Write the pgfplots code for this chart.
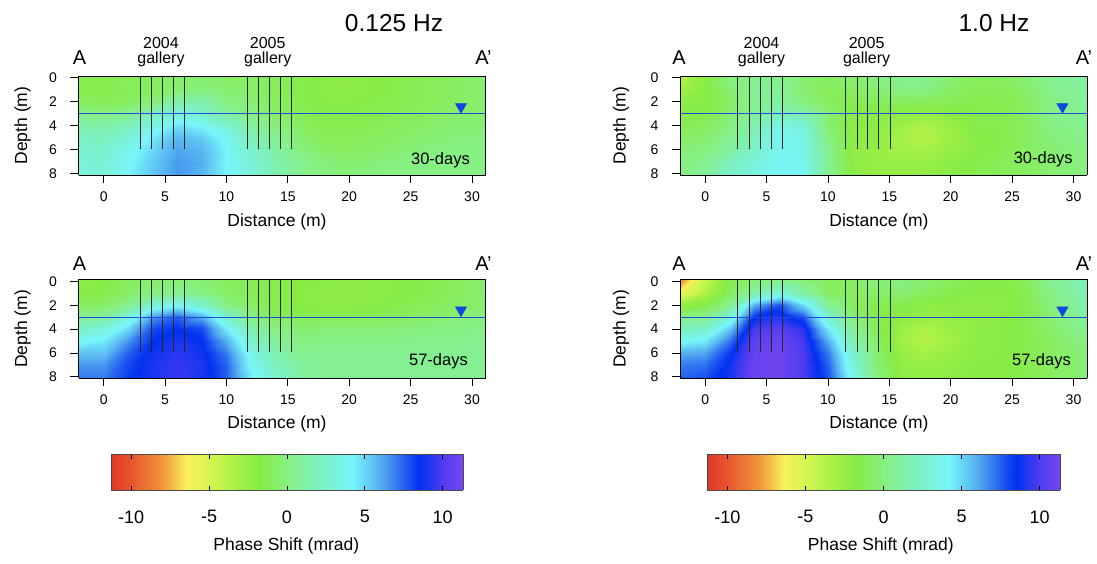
\documentclass[border=0pt]{standalone}
\usepackage{fontspec}
\setmainfont{Liberation Sans}
\usepackage{pgfplots}
\pgfplotsset{compat=1.18}
\newcommand\fs[1]{\fontsize{#1}{#1}\selectfont}
\definecolor{wt}{RGB}{35,75,215}
\definecolor{tri}{RGB}{20,70,225}
\pgfplotsset{
  colormap={phase}{rgb255(0pt)=(225,55,40); rgb255(13pt)=(232,85,45); rgb255(33pt)=(240,150,60);
    rgb255(49pt)=(250,240,90); rgb255(63pt)=(215,245,80); rgb255(83pt)=(160,240,70);
    rgb255(96pt)=(135,235,70); rgb255(113pt)=(135,240,130); rgb255(133pt)=(125,240,190);
    rgb255(155pt)=(120,245,250); rgb255(173pt)=(85,175,240); rgb255(193pt)=(20,70,240);
    rgb255(198pt)=(0,50,240); rgb255(213pt)=(80,60,240); rgb255(226pt)=(120,70,240)},
  panel/.style={
    view={0}{90}, scale only axis, width=407pt, height=99pt, anchor=south west,
    xmin=-2.05, xmax=31.1, ymin=-0.15, ymax=8.1, y dir=reverse,
    xtick={0,5,...,30}, ytick={0,2,4,6,8}, ztick=\empty,
    tick align=outside, major tick length=8pt,
    xtick pos=left, ytick pos=left,
    /pgf/number format/assume math mode=true,
    ticklabel style={font=\fs{14}},
    xticklabel style={yshift=-5pt}, yticklabel style={xshift=-10pt},
    axis line style={black, line width=0.9pt},
    tick style={black, line width=0.8pt},
    colormap name=phase, point meta min=-11.3, point meta max=11.3,
    axis on top,
  },
  field/.style={surf, shader=interp, point meta=z, mesh/cols=17},
  gal/.style={draw=black!85, line width=1.15pt},
  water/.style={draw=wt, color=wt, line width=1.1pt},
  triang/.style={only marks, mark=triangle*, mark size=6.5pt,
    mark options={rotate=180, draw=tri, fill=tri}},
  cbar/.style={
    view={0}{90}, scale only axis, width=352pt, height=36pt, anchor=south west,
    xmin=-11.3, xmax=11.3, ymin=0, ymax=1, ytick=\empty, ztick=\empty,
    xtick={-10,-5,0,5,10}, tick align=inside, major tick length=4.5pt,
    xtick pos=both, xticklabel pos=lower,
    /pgf/number format/assume math mode=true,
    xticklabel style={font=\fs{18}, yshift=-17pt},
    axis line style={black!70, line width=0.8pt},
    tick style={black, line width=0.8pt},
    colormap name=phase, point meta min=-11.3, point meta max=11.3,
    axis on top,
  },
}
\begin{document}
\begin{tikzpicture}
\path[use as bounding box] (0pt,0pt) rectangle (1097pt,563pt);

% ---- 0.125 Hz, 30 days
\begin{axis}[panel, at={(78.5pt,388pt)}]
\addplot3[field] coordinates {
(-2.05,-0.15,-1.5) (0,-0.15,-1.5) (2,-0.15,-1) (4,-0.15,-1) (6,-0.15,-0.5) (8,-0.15,-0.5) (10,-0.15,-1) (12,-0.15,-0.8) (14,-0.15,-1) (16,-0.15,-1.5) (18,-0.15,-1.8) (20,-0.15,-2) (22,-0.15,-1.8) (24,-0.15,-1.5) (26,-0.15,-1.2) (28,-0.15,-1) (31.1,-0.15,-0.5)

(-2.05,1,-1.5) (0,1,-1.5) (2,1,-1.2) (4,1,-1) (6,1,-0.5) (8,1,0) (10,1,-0.5) (12,1,-0.8) (14,1,-1.2) (16,1,-1.5) (18,1,-2) (20,1,-2) (22,1,-1.8) (24,1,-1.5) (26,1,-1.2) (28,1,-1) (31.1,1,-0.5)

(-2.05,2,-1) (0,2,-1.2) (2,2,-1) (4,2,-0.2) (6,2,1.5) (8,2,1.5) (10,2,0) (12,2,-0.5) (14,2,-1) (16,2,-1.5) (18,2,-1.8) (20,2,-1.8) (22,2,-1.5) (24,2,-1.5) (26,2,-1.2) (28,2,-1) (31.1,2,-0.5)

(-2.05,3,0.3) (0,3,0) (2,3,0.5) (4,3,2) (6,3,3.2) (8,3,2.5) (10,3,1) (12,3,0) (14,3,-0.8) (16,3,-1.2) (18,3,-1.5) (20,3,-1.5) (22,3,-1.5) (24,3,-1.2) (26,3,-1) (28,3,-0.8) (31.1,3,-0.5)

(-2.05,4,1.5) (0,4,1.3) (2,4,2) (4,4,3.5) (6,4,4.8) (8,4,4.2) (10,4,2.8) (12,4,1) (14,4,-0.2) (16,4,-1) (18,4,-1.5) (20,4,-1.5) (22,4,-1.2) (24,4,-1) (26,4,-0.8) (28,4,-0.5) (31.1,4,-0.3)

(-2.05,5,2.2) (0,5,2) (2,5,3) (4,5,4.5) (6,5,5.8) (8,5,5.3) (10,5,3.8) (12,5,1.8) (14,5,0.5) (16,5,-0.5) (18,5,-1.2) (20,5,-1.2) (22,5,-1) (24,5,-0.8) (26,5,-0.5) (28,5,-0.3) (31.1,5,0)

(-2.05,6,2.8) (0,6,2.5) (2,6,3.8) (4,6,5) (6,6,6.2) (8,6,5.8) (10,6,4.2) (12,6,2.5) (14,6,1) (16,6,0) (18,6,-0.8) (20,6,-1) (22,6,-0.8) (24,6,-0.5) (26,6,-0.2) (28,6,0) (31.1,6,0)

(-2.05,7,3) (0,7,2.8) (2,7,4) (4,7,5.3) (6,7,6.4) (8,7,6) (10,7,4.2) (12,7,3) (14,7,1.5) (16,7,0.5) (18,7,-0.2) (20,7,-0.5) (22,7,-0.3) (24,7,0) (26,7,0) (28,7,0) (31.1,7,0)

(-2.05,8.1,3.2) (0,8.1,3) (2,8.1,4.2) (4,8.1,5.4) (6,8.1,6.4) (8,8.1,5.8) (10,8.1,4.2) (12,8.1,3) (14,8.1,1.5) (16,8.1,0.5) (18,8.1,0) (20,8.1,-0.3) (22,8.1,0) (24,8.1,0.2) (26,8.1,0.2) (28,8.1,0.2) (31.1,8.1,0.2)
};
\pgfplotsinvokeforeach{3.01,3.91,4.80,5.70,6.60,11.73,12.62,13.52,14.41,15.31}{
  \addplot3[gal] coordinates {(#1,-0.2,20) (#1,5.95,20)};}
\addplot3[water] coordinates {(-2.05,3,20) (31.1,3,20)};
\addplot3[triang] coordinates {(29.1,2.42,20)};
\end{axis}

% ---- 0.125 Hz, 57 days
\begin{axis}[panel, at={(78.5pt,185pt)}, height=98.5pt]
\addplot3[field] coordinates {
(-2.05,-0.15,-2) (0,-0.15,-1.8) (2,-0.15,-1) (4,-0.15,-0.5) (6,-0.15,-0.5) (8,-0.15,-0.5) (10,-0.15,-1) (12,-0.15,-1.2) (14,-0.15,-1.5) (16,-0.15,-1.8) (18,-0.15,-1.8) (20,-0.15,-2) (22,-0.15,-2) (24,-0.15,-1.8) (26,-0.15,-1.5) (28,-0.15,-1.2) (31.1,-0.15,-0.5)

(-2.05,1,-1.8) (0,1,-1.5) (2,1,-0.8) (4,1,0) (6,1,0.5) (8,1,0) (10,1,-0.8) (12,1,-1.2) (14,1,-1.5) (16,1,-1.8) (18,1,-2) (20,1,-2) (22,1,-2) (24,1,-1.8) (26,1,-1.5) (28,1,-1.2) (31.1,1,-0.5)

(-2.05,2,-1) (0,2,-0.8) (2,2,0.5) (4,2,3) (6,2,4) (8,2,2.5) (10,2,0) (12,2,-1) (14,2,-1.5) (16,2,-1.8) (18,2,-2) (20,2,-2) (22,2,-1.8) (24,2,-1.5) (26,2,-1.2) (28,2,-1) (31.1,2,-0.5)

(-2.05,3,0.5) (0,3,1) (2,3,3) (4,3,6.5) (6,3,7.5) (8,3,6) (10,3,2.5) (12,3,0) (14,3,-1) (16,3,-1.2) (18,3,-1.2) (20,3,-1.2) (22,3,-1.2) (24,3,-1) (26,3,-0.8) (28,3,-0.5) (31.1,3,0)

(-2.05,4,2.5) (0,4,3) (2,4,5) (4,4,8) (6,4,8.5) (8,4,8) (10,4,4.5) (12,4,1.5) (14,4,0) (16,4,-0.5) (18,4,-0.3) (20,4,-0.3) (22,4,-0.3) (24,4,-0.3) (26,4,0) (28,4,0) (31.1,4,0.3)

(-2.05,5,4) (0,5,4.5) (2,5,6.5) (4,5,8.5) (6,5,9) (8,5,8.5) (10,5,6) (12,5,2.5) (14,5,0.8) (16,5,0) (18,5,0.2) (20,5,0.2) (22,5,0.2) (24,5,0.2) (26,5,0.3) (28,5,0.3) (31.1,5,0.5)

(-2.05,6,5.5) (0,6,5.5) (2,6,7.5) (4,6,8.8) (6,6,9.3) (8,6,8.8) (10,6,7) (12,6,3.5) (14,6,1.5) (16,6,0.5) (18,6,0.5) (20,6,0.5) (22,6,0.5) (24,6,0.5) (26,6,0.5) (28,6,0.5) (31.1,6,0.5)

(-2.05,7,6.5) (0,7,6.5) (2,7,8) (4,7,9) (6,7,9.5) (8,7,9) (10,7,7.5) (12,7,4) (14,7,2) (16,7,1) (18,7,0.5) (20,7,0.5) (22,7,0.5) (24,7,0.5) (26,7,0.5) (28,7,0.5) (31.1,7,0.5)

(-2.05,8.1,7) (0,8.1,7) (2,8.1,8.2) (4,8.1,9) (6,8.1,9.5) (8,8.1,9) (10,8.1,7.5) (12,8.1,4.5) (14,8.1,2.5) (16,8.1,1) (18,8.1,0.5) (20,8.1,0.5) (22,8.1,0.5) (24,8.1,0.5) (26,8.1,0.5) (28,8.1,0.5) (31.1,8.1,0.5)
};
\pgfplotsinvokeforeach{3.01,3.91,4.80,5.70,6.60,11.73,12.62,13.52,14.41,15.31}{
  \addplot3[gal] coordinates {(#1,-0.2,20) (#1,5.95,20)};}
\addplot3[water] coordinates {(-2.05,3,20) (31.1,3,20)};
\addplot3[triang] coordinates {(29.1,2.42,20)};
\end{axis}

% ---- 1.0 Hz, 30 days
\begin{axis}[panel, at={(680pt,388pt)}]
\addplot3[field] coordinates {
(-2.05,-0.15,-4) (0,-0.15,-2) (2,-0.15,0) (4,-0.15,0.5) (6,-0.15,0.3) (8,-0.15,-0.5) (10,-0.15,-1) (12,-0.15,-0.5) (14,-0.15,0) (16,-0.15,0.5) (18,-0.15,0.5) (20,-0.15,-0.5) (22,-0.15,-1) (24,-0.15,-1) (26,-0.15,-0.5) (28,-0.15,0.5) (31.1,-0.15,1)

(-2.05,1,-3) (0,1,-1.8) (2,1,-0.5) (4,1,0.8) (6,1,0.8) (8,1,-0.5) (10,1,-1.2) (12,1,-1) (14,1,-0.5) (16,1,0) (18,1,0) (20,1,-0.8) (22,1,-1.2) (24,1,-1.2) (26,1,-0.8) (28,1,0.3) (31.1,1,1)

(-2.05,2,-2) (0,2,-1.8) (2,2,-1) (4,2,0.5) (6,2,1) (8,2,0) (10,2,-1.2) (12,2,-1.5) (14,2,-1.2) (16,2,-1) (18,2,-1.2) (20,2,-1.2) (22,2,-1.5) (24,2,-1.5) (26,2,-1) (28,2,0) (31.1,2,0.8)

(-2.05,3,-1.5) (0,3,-1.5) (2,3,-0.5) (4,3,1) (6,3,2) (8,3,1.5) (10,3,-0.5) (12,3,-1.8) (14,3,-1.8) (16,3,-2.2) (18,3,-2.5) (20,3,-1.8) (22,3,-1.5) (24,3,-1.5) (26,3,-1) (28,3,0) (31.1,3,0.8)

(-2.05,4,-1.2) (0,4,-1) (2,4,0) (4,4,1.5) (6,4,3.5) (8,4,3) (10,4,-0.5) (12,4,-2) (14,4,-2) (16,4,-3) (18,4,-3.5) (20,4,-2.5) (22,4,-1.5) (24,4,-1.5) (26,4,-1) (28,4,0) (31.1,4,0.5)

(-2.05,5,-0.8) (0,5,-0.5) (2,5,0.5) (4,5,2) (6,5,4) (8,5,3.5) (10,5,0) (12,5,-2) (14,5,-2.2) (16,5,-3.2) (18,5,-3.8) (20,5,-2.8) (22,5,-1.8) (24,5,-1.5) (26,5,-1) (28,5,-0.3) (31.1,5,0.3)

(-2.05,6,-0.3) (0,6,0) (2,6,1) (4,6,2.5) (6,6,3.8) (8,6,3.5) (10,6,0.5) (12,6,-2.2) (14,6,-2.5) (16,6,-3) (18,6,-3.2) (20,6,-2.5) (22,6,-1.8) (24,6,-1.5) (26,6,-1) (28,6,-0.5) (31.1,6,0)

(-2.05,7,0) (0,7,0.5) (2,7,2) (4,7,3) (6,7,4) (8,7,3.8) (10,7,0.5) (12,7,-2) (14,7,-2.5) (16,7,-2.5) (18,7,-2.5) (20,7,-2) (22,7,-1.5) (24,7,-1.2) (26,7,-1) (28,7,-0.5) (31.1,7,0)

(-2.05,8.1,0) (0,8.1,0.8) (2,8.1,2.5) (4,8.1,3.2) (6,8.1,4) (8,8.1,4) (10,8.1,0.5) (12,8.1,-2) (14,8.1,-2.5) (16,8.1,-2.5) (18,8.1,-2.2) (20,8.1,-1.8) (22,8.1,-1.5) (24,8.1,-1.2) (26,8.1,-1) (28,8.1,-0.5) (31.1,8.1,0)
};
\pgfplotsinvokeforeach{2.63,3.58,4.50,5.37,6.29,11.46,12.38,13.25,14.14,15.06}{
  \addplot3[gal] coordinates {(#1,-0.2,20) (#1,5.95,20)};}
\addplot3[water] coordinates {(-2.05,3,20) (31.1,3,20)};
\addplot3[triang] coordinates {(29.1,2.42,20)};
\end{axis}

% ---- 1.0 Hz, 57 days
\begin{axis}[panel, at={(680pt,185pt)}, height=98.5pt]
\addplot3[field] coordinates {
(-2.05,-0.15,-8.5) (0,-0.15,-4.5) (2,-0.15,-1.5) (4,-0.15,-0.5) (6,-0.15,0) (8,-0.15,-0.5) (10,-0.15,-1.2) (12,-0.15,-0.8) (14,-0.15,-0.2) (16,-0.15,0) (18,-0.15,-0.5) (20,-0.15,-1) (22,-0.15,-1.5) (24,-0.15,-1.5) (26,-0.15,-1.2) (28,-0.15,0.5) (31.1,-0.15,2)

(-2.05,1,-6) (0,1,-3.5) (2,1,-1) (4,1,1.5) (6,1,3) (8,1,1) (10,1,-1) (12,1,-1) (14,1,-0.8) (16,1,-0.5) (18,1,-1) (20,1,-1.5) (22,1,-1.8) (24,1,-1.8) (26,1,-1.5) (28,1,0) (31.1,1,1.8)

(-2.05,2,-2.5) (0,2,-1.5) (2,2,0.5) (4,2,6) (6,2,7.8) (8,2,5) (10,2,0.5) (12,2,-1.2) (14,2,-1.5) (16,2,-1.5) (18,2,-2) (20,2,-2) (22,2,-2) (24,2,-2) (26,2,-1.5) (28,2,-0.3) (31.1,2,1.5)

(-2.05,3,0) (0,3,0.5) (2,3,3) (4,3,8.5) (6,3,9.2) (8,3,7.8) (10,3,2.5) (12,3,-0.5) (14,3,-1.5) (16,3,-2) (18,3,-2.5) (20,3,-2.2) (22,3,-2) (24,3,-2) (26,3,-1.5) (28,3,-0.5) (31.1,3,1)

(-2.05,4,2) (0,4,2.5) (2,4,5.5) (4,4,9.8) (6,4,10.3) (8,4,9.3) (10,4,4.5) (12,4,0.5) (14,4,-1.2) (16,4,-2.8) (18,4,-3.5) (20,4,-2.8) (22,4,-2) (24,4,-1.8) (26,4,-1.5) (28,4,-0.8) (31.1,4,0.5)

(-2.05,5,4) (0,5,4.5) (2,5,7.2) (4,5,10.5) (6,5,10.8) (8,5,9.8) (10,5,6) (12,5,1.5) (14,5,-1) (16,5,-3) (18,5,-3.8) (20,5,-3) (22,5,-2) (24,5,-1.8) (26,5,-1.5) (28,5,-1) (31.1,5,0)

(-2.05,6,6) (0,6,6.2) (2,6,8.3) (4,6,10.7) (6,6,11) (8,6,10) (10,6,7) (12,6,2.5) (14,6,-0.5) (16,6,-2.5) (18,6,-3.2) (20,6,-2.5) (22,6,-2) (24,6,-1.8) (26,6,-1.5) (28,6,-1) (31.1,6,-0.3)

(-2.05,7,7) (0,7,7.2) (2,7,8.8) (4,7,10.8) (6,7,11) (8,7,10) (10,7,7.5) (12,7,3) (14,7,-0.5) (16,7,-2.2) (18,7,-2.5) (20,7,-2.2) (22,7,-1.8) (24,7,-1.8) (26,7,-1.5) (28,7,-1) (31.1,7,-0.3)

(-2.05,8.1,7.5) (0,8.1,7.8) (2,8.1,9) (4,8.1,10.8) (6,8.1,11) (8,8.1,10) (10,8.1,7.8) (12,8.1,3.5) (14,8.1,0) (16,8.1,-2) (18,8.1,-2.2) (20,8.1,-2) (22,8.1,-1.8) (24,8.1,-1.8) (26,8.1,-1.5) (28,8.1,-1) (31.1,8.1,-0.3)
};
\pgfplotsinvokeforeach{2.63,3.58,4.50,5.37,6.29,11.46,12.38,13.25,14.14,15.06}{
  \addplot3[gal] coordinates {(#1,-0.2,20) (#1,5.95,20)};}
\addplot3[water] coordinates {(-2.05,3,20) (31.1,3,20)};
\addplot3[triang] coordinates {(29.1,2.42,20)};
\end{axis}

% ---- colour bars
\begin{axis}[cbar, at={(111pt,73pt)}]
\addplot3[surf, shader=interp, point meta=x, mesh/cols=15] coordinates {
(-11.3,0,0) (-10,0,0) (-8,0,0) (-6.4,0,0) (-5,0,0) (-3,0,0) (-1.7,0,0) (0,0,0) (2,0,0) (4.2,0,0) (6,0,0) (8,0,0) (8.5,0,0) (10,0,0) (11.3,0,0)

(-11.3,1,0) (-10,1,0) (-8,1,0) (-6.4,1,0) (-5,1,0) (-3,1,0) (-1.7,1,0) (0,1,0) (2,1,0) (4.2,1,0) (6,1,0) (8,1,0) (8.5,1,0) (10,1,0) (11.3,1,0)
};
\end{axis}
\begin{axis}[cbar, at={(707pt,73pt)}, width=353pt]
\addplot3[surf, shader=interp, point meta=x, mesh/cols=15] coordinates {
(-11.3,0,0) (-10,0,0) (-8,0,0) (-6.4,0,0) (-5,0,0) (-3,0,0) (-1.7,0,0) (0,0,0) (2,0,0) (4.2,0,0) (6,0,0) (8,0,0) (8.5,0,0) (10,0,0) (11.3,0,0)

(-11.3,1,0) (-10,1,0) (-8,1,0) (-6.4,1,0) (-5,1,0) (-3,1,0) (-1.7,1,0) (0,1,0) (2,1,0) (4.2,1,0) (6,1,0) (8,1,0) (8.5,1,0) (10,1,0) (11.3,1,0)
};
\end{axis}

% ---- text
\begin{scope}[x=1pt,y=1pt]
\node[anchor=base, font=\fs{24.5}] at (394,531.3) {0.125 Hz};
\node[anchor=base, font=\fs{24.5}] at (994,531.3) {1.0 Hz};
\begin{scope}[every node/.style={anchor=base, font=\fs{20}, inner sep=0pt}]
\node at (79.5,498.7) {A};   \node at (483.5,498.7) {A’};
\node at (79.5,293) {A};     \node at (483.5,293) {A’};
\node at (679,498.7) {A};    \node at (1084,498.7) {A’};
\node at (679,293) {A};      \node at (1084,293) {A’};
\end{scope}
\begin{scope}[every node/.style={anchor=base, font=\fs{16}, inner sep=0pt}]
\node at (161,514.7) {2004}; \node at (161,499.7) {gallery};
\node at (267.7,514.7) {2005}; \node at (267.7,499.7) {gallery};
\node at (761.5,514.7) {2004}; \node at (761.5,499.7) {gallery};
\node at (866.6,514.7) {2005}; \node at (866.6,499.7) {gallery};
\end{scope}
\begin{scope}[every node/.style={anchor=base east, font=\fs{16.5}, inner sep=0pt}]
\node at (470,398.3) {30-days};
\node at (1072.7,399.3) {30-days};
\node at (468,197.7) {57-days};
\node at (1071,197.7) {57-days};
\end{scope}
\begin{scope}[every node/.style={font=\fs{17.5}, inner sep=0pt}]
\node[rotate=90] at (22.5,437.5) {Depth (m)};
\node[rotate=90] at (22.5,234) {Depth (m)};
\node[rotate=90] at (621,437.5) {Depth (m)};
\node[rotate=90] at (621,234) {Depth (m)};
\node at (277,341) {Distance (m)};
\node at (277,139) {Distance (m)};
\node at (879,341) {Distance (m)};
\node at (879,139) {Distance (m)};
\node at (286.3,17.2) {Phase Shift (mrad)};
\node at (880.8,17.2) {Phase Shift (mrad)};
\end{scope}
\end{scope}
\end{tikzpicture}
\end{document}
